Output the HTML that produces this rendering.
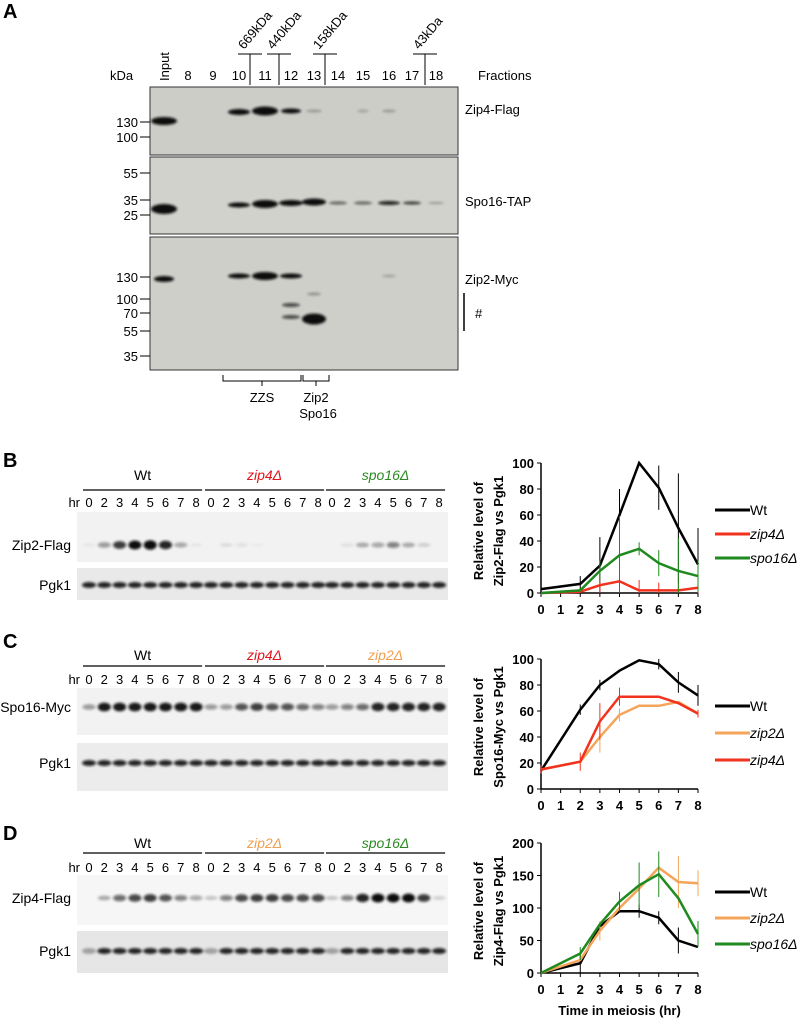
<!DOCTYPE html>
<html><head><meta charset="utf-8">
<style>
body{margin:0;background:#fff;font-family:"Liberation Sans",sans-serif;}
svg{display:block}
text{font-family:"Liberation Sans",sans-serif;}
</style></head>
<body>
<svg id="fig" width="800" height="1024" viewBox="0 0 800 1024">
<defs>
<filter id="blur" x="-50%" y="-50%" width="200%" height="200%"><feGaussianBlur stdDeviation="1.2"/></filter>
</defs>
<g id="panelA">
<text x="3" y="18" font-size="20" font-weight="bold">A</text>
<text x="110" y="80" font-size="13">kDa</text>
<text x="478" y="80" font-size="13">Fractions</text>
<rect x="150" y="87" width="308" height="68" fill="#cdcdc8" stroke="#333"/>
<rect x="150" y="157" width="308" height="77" fill="#d2d2cd" stroke="#333"/>
<rect x="150" y="237" width="308" height="133" fill="#cfcfca" stroke="#333"/>
<text x="465" y="114" font-size="13">Zip4-Flag</text>
<text x="465" y="206" font-size="13">Spo16-TAP</text>
<text x="465" y="284" font-size="13">Zip2-Myc</text>
<line x1="464" y1="293" x2="464" y2="331" stroke="#000" stroke-width="1.5"/>
<text x="475" y="318" font-size="13">#</text>
<g id="markersA"></g>
<g id="lanesA"></g>
<g id="bandsA" filter="url(#blur)"></g>
<g>
<path d="M223 375 V381 H301 V375" fill="none" stroke="#000"/>
<line x1="262" y1="381" x2="262" y2="386" stroke="#000"/>
<text x="262" y="402" font-size="13" text-anchor="middle">ZZS</text>
</g>
<g>
<path d="M303 375 V381 H329 V375" fill="none" stroke="#000"/>
<line x1="316" y1="381" x2="316" y2="386" stroke="#000"/>
<text x="316" y="402" font-size="13" text-anchor="middle">Zip2</text>
<text x="318" y="418" font-size="13" text-anchor="middle">Spo16</text>
</g>
</g>
<g id="blotsBCD"></g>
<g id="charts"></g>
</svg>
<script>
const NS="http://www.w3.org/2000/svg";
function mk(tag,attrs,parent,txt){const e=document.createElementNS(NS,tag);for(const k in attrs)e.setAttribute(k,attrs[k]);if(txt!==undefined)e.textContent=txt;parent.appendChild(e);return e;}

// ---- Panel A ----
const fractionLabels=["Input","8","9","10","11","12","13","14","15","16","17","18"];
const laneX=[164,188,213,239,265,291,314,338,363,389,412,436];
const lanesA=document.getElementById('lanesA');
fractionLabels.forEach((l,i)=>{
  let t;
  if(i===0){t=mk('text',{x:laneX[i]+5,y:81,'font-size':13,transform:`rotate(-90 ${laneX[i]+5} 81)`},lanesA,l);}
  else t=mk('text',{x:laneX[i],y:80,'font-size':13,'text-anchor':'middle'},lanesA,l);
  
  
});
const sizeStds=[["669kDa",250],["440kDa",279],["158kDa",325],["43kDa",425]];
sizeStds.forEach(s=>{
  const g=mk('g',{},lanesA);
  
  
  mk('line',{x1:s[1]-12,y1:54,x2:s[1]+12,y2:54,stroke:'#000'},g);
  mk('line',{x1:s[1],y1:54,x2:s[1],y2:85,stroke:'#000'},g);
  mk('text',{x:s[1]-6,y:50,'font-size':13,transform:`rotate(-50 ${s[1]-6} 50)`},g,s[0]);
});
const markersA=[[130,122],[100,137],[55,173],[35,200],[25,215],[130,277],[100,299],[70,313],[55,331],[35,356]];
const mg=document.getElementById('markersA');
markersA.forEach(m=>{
  const t=mk('text',{x:138,y:m[1]+5,'font-size':13,'text-anchor':'end'},mg,m[0]);
  
  
  mk('line',{x1:140,y1:m[1],x2:150,y2:m[1],stroke:'#000'},mg);
});
const bandsA=[[0,121,22,7,1],[3,112,18,5,1],[4,111,22,8,1],[5,111,16,4,1],[6,111,12,2,0.25],[8,111,8,2,0.2],[9,111,10,2,0.25],
[0,209,22,9,1],[3,205,18,4,1],[4,204,22,7,1],[5,203,20,5,1],[6,202,20,6,1],[7,203,14,2,0.6],[8,203,14,2,0.6],[9,203,18,3,0.9],[10,203,14,2,0.8],[11,203,12,1,0.3],
[0,279,16,5,1],[3,276,18,4,1],[4,276,22,7,1],[5,276,18,4,1],[9,276,10,2,0.2],[5,305,14,3,0.7],[5,317,14,3,0.7],[6,294,10,2,0.3],[6,319,20,10,1]];
const bg=document.getElementById('bandsA');
bandsA.forEach((b,i)=>{
  const e=mk('ellipse',{cx:laneX[b[0]],cy:b[1],rx:b[2]/2+2,ry:b[3]/2+0.5,fill:'#111','fill-opacity':b[4]},bg);
  
  
});

// ---- Blots B,C,D ----
const hrLabels=["0","2","3","4","5","6","7","8"];
const blotGroups=[
 {panel:"B",py:467,sy:480,ly:490,hy:507,top:{name:"Zip2-Flag",y:512,h:50,bg:"#f2f2f2",by:545},bot:{name:"Pgk1",y:568,h:32,bg:"#e9e9e9",by:585},
  strains:[["Wt","#000",false],["zip4Δ","#e3151b",true],["spo16Δ","#2a8a21",true]],
  topInt:[[0.05,0.4,0.8,1,1.1,0.9,0.35,0.05],[0,0.1,0.08,0.03,0,0,0,0],[0,0.08,0.3,0.35,0.5,0.3,0.15,0]],
  botInt:[0.9,0.9,0.9,0.9,0.9,0.9,0.9,0.9]},
 {panel:"C",py:648,sy:660,ly:666,hy:684,top:{name:"Spo16-Myc",y:688,h:47,bg:"#f2f2f2",by:707},bot:{name:"Pgk1",y:743,h:48,bg:"#ececec",by:763},
  strains:[["Wt","#000",false],["zip4Δ","#e3151b",true],["zip2Δ","#f0a050",true]],
  topInt:[[0.4,0.95,0.95,0.95,0.95,0.95,0.95,0.95],[0.4,0.4,0.7,0.8,0.7,0.7,0.6,0.5],[0.4,0.5,0.6,0.9,0.9,0.9,0.9,0.9]],
  botInt:[0.9,0.9,0.9,0.9,0.9,0.9,0.9,0.9]},
 {panel:"D",py:840,sy:848,ly:853,hy:872,top:{name:"Zip4-Flag",y:875,h:50,bg:"#f6f6f6",by:898},bot:{name:"Pgk1",y:931,h:42,bg:"#e6e6e6",by:951},
  strains:[["Wt","#000",false],["zip2Δ","#f0a050",true],["spo16Δ","#2a8a21",true]],
  topInt:[[0,0.3,0.6,0.75,0.8,0.7,0.5,0.35],[0.2,0.5,0.75,0.8,0.8,0.75,0.75,0.75],[0.2,0.5,0.9,1,1,1,0.8,0.15]],
  botInt:[0.3,0.9,0.9,0.9,0.9,0.9,0.9,0.9]}
];
const groupX=[89,211,332], laneStep=15.3;
const bb=document.getElementById('blotsBCD');
blotGroups.forEach(G=>{
  const g=mk('g',{},bb);
  
  
  mk('text',{x:3,y:G.py,'font-size':20,'font-weight':'bold'},g,G.panel);
  mk('text',{x:80,y:G.hy,'font-size':13,'text-anchor':'end'},g,"hr");
  [G.top,G.bot].forEach(B=>{
    const r=mk('rect',{x:77,y:B.y,width:371,height:B.h,fill:B.bg},g);
    
    
    mk('text',{x:71,y:B.by+5,'font-size':14,'text-anchor':'end'},g,B.name);
  });
  const bands=mk('g',{filter:'url(#blur)'},g);
  G.strains.forEach((s,si)=>{
    const x0=groupX[si];
    mk('line',{x1:x0-6,y1:G.ly,x2:x0+7*laneStep+6,y2:G.ly,stroke:'#000','stroke-width':1.3},g);
    const st=mk('text',{x:x0+3.5*laneStep,y:G.sy,'font-size':14,'text-anchor':'middle',fill:s[1],'font-style':s[2]?'italic':'normal'},g,s[0]);
    
    
    hrLabels.forEach((h,hi)=>{
      const x=x0+hi*laneStep;
      mk('text',{x:x,y:G.hy,'font-size':13,'text-anchor':'middle'},g,h);
      const v=G.topInt[si][hi];
      if(v>0) mk('ellipse',{cx:x,cy:G.top.by,rx:6.5,ry:1.5+3*v,fill:'#111','fill-opacity':Math.min(1,v)},bands);
      mk('ellipse',{cx:x,cy:G.bot.by,rx:7,ry:3,fill:'#111','fill-opacity':G.botInt[hi]},bands);
    });
  });
});

// ---- Charts ----
const timeCats=[0,2,3,4,5,6,7,8];
const bWt=[3,7,21,60,100,81,50,22], bWtErr=[0,6,22,20,0,17,42,28];
const bZip4=[0,1,6,9,2,2,2,4], bZip4Err=[0,0,8,8,8,6,6,4];
const bSpo16=[0,2,17,29,34,23,17,13], bSpo16Err=[0,0,8,30,5,10,25,12];
const cWt=[14,61,80,91,99,96,82,72], cWtErr=[0,4,4,0,0,4,8,8];
const cZip2=[15,21,40,57,64,64,67,58], cZip2Err=[0,0,12,5,0,0,0,0];
const cZip4=[15,21,52,71,71,71,66,58], cZip4Err=[3,7,14,7,0,0,0,3];
const dWt=[0,15,72,95,95,85,50,40], dWtErr=[0,15,0,0,10,10,20,0];
const dZip2=[0,20,65,100,130,162,140,138], dZip2Err=[0,0,15,0,0,0,40,20];
const dSpo16=[0,30,75,110,135,152,115,60], dSpo16Err=[0,10,0,15,35,35,0,20];
const yTicksB=[0,20,40,60,80,100], yTicksD=[0,50,100,150,200];
const xTicks=[0,1,2,3,4,5,6,7,8];

const chartDefs=[
 {id:"b",y0:593,y1:463,max:100,ticks:yTicksB,title:["Relative level of","Zip2-Flag vs Pgk1"],
  series:[["Wt",bWt,bWtErr,"#000",false],["zip4Δ",bZip4,bZip4Err,"#f0321e",true],["spo16Δ",bSpo16,bSpo16Err,"#1f8a1f",true]],legY:[510,534,558],xlabel:false},
 {id:"c",y0:789,y1:659,max:100,ticks:yTicksB,title:["Relative level of","Spo16-Myc vs Pgk1"],
  series:[["Wt",cWt,cWtErr,"#000",false],["zip2Δ",cZip2,cZip2Err,"#f5a55a",true],["zip4Δ",cZip4,cZip4Err,"#f0321e",true]],legY:[706,733,760],xlabel:false},
 {id:"d",y0:973,y1:843,max:200,ticks:yTicksD,title:["Relative level of","Zip4-Flag vs Pgk1"],
  series:[["Wt",dWt,dWtErr,"#000",false],["zip2Δ",dZip2,dZip2Err,"#f5a55a",true],["spo16Δ",dSpo16,dSpo16Err,"#1f8a1f",true]],legY:[892,918,944],xlabel:true}
];
const cg=document.getElementById('charts');
const xL=541,xR=698;
const xs=t=>xL+(xR-xL)*t/8;
chartDefs.forEach(C=>{
  const ys=v=>C.y0+(C.y1-C.y0)*v/C.max;
  const g=mk('g',{},cg);
  
  
  const yt=mk('text',{transform:`translate(483 ${(C.y0+C.y1)/2+3}) rotate(-90)`,'font-size':13,'font-weight':'bold','text-anchor':'middle'},g);
  
  
  mk('tspan',{x:0,dy:0},yt,C.title[0]);
  mk('tspan',{x:0,dy:20},yt,C.title[1]);
  mk('line',{x1:xL,y1:C.y1,x2:xL,y2:C.y0,stroke:'#000','stroke-width':1.5},g);
  mk('line',{x1:xL,y1:C.y0,x2:xR,y2:C.y0,stroke:'#000','stroke-width':1.5},g);
  C.ticks.forEach(t=>{
    mk('line',{x1:xL-4,y1:ys(t),x2:xL,y2:ys(t),stroke:'#000'},g);
    mk('text',{x:xL-7,y:ys(t)+5,'font-size':13,'font-weight':'bold','text-anchor':'end'},g,t);
  });
  xTicks.forEach(t=>{
    mk('line',{x1:xs(t),y1:C.y0,x2:xs(t),y2:C.y0+4,stroke:'#000'},g);
    mk('text',{x:xs(t),y:C.y0+21,'font-size':13,'font-weight':'bold','text-anchor':'middle'},g,t);
  });
  if(C.xlabel){const xl=mk('text',{x:(xL+xR)/2,y:1015,'font-size':13,'font-weight':'bold','text-anchor':'middle'},g,"Time in meiosis (hr)");
    }
  C.series.forEach((s,si)=>{
    const sg=mk('g',{},g);
    
    
    s[1].forEach((v,i)=>{ if(s[2][i]>0) mk('line',{x1:xs(timeCats[i]),y1:ys(Math.max(0,v-s[2][i])),x2:xs(timeCats[i]),y2:ys(v+s[2][i]),stroke:s[3],'stroke-width':1},sg);});
    mk('polyline',{points:s[1].map((v,i)=>xs(timeCats[i])+','+ys(v)).join(' '),fill:'none',stroke:s[3],'stroke-width':2.5},sg);
    const ly=C.legY[si];
    const lg=mk('g',{},g);
    
    
    mk('line',{x1:715,y1:ly,x2:750,y2:ly,stroke:s[3],'stroke-width':3},lg);
    mk('text',{x:750,y:ly+5,'font-size':14,'font-style':s[4]?'italic':'normal'},lg,s[0]);
  });
});
</script>
</body></html>
